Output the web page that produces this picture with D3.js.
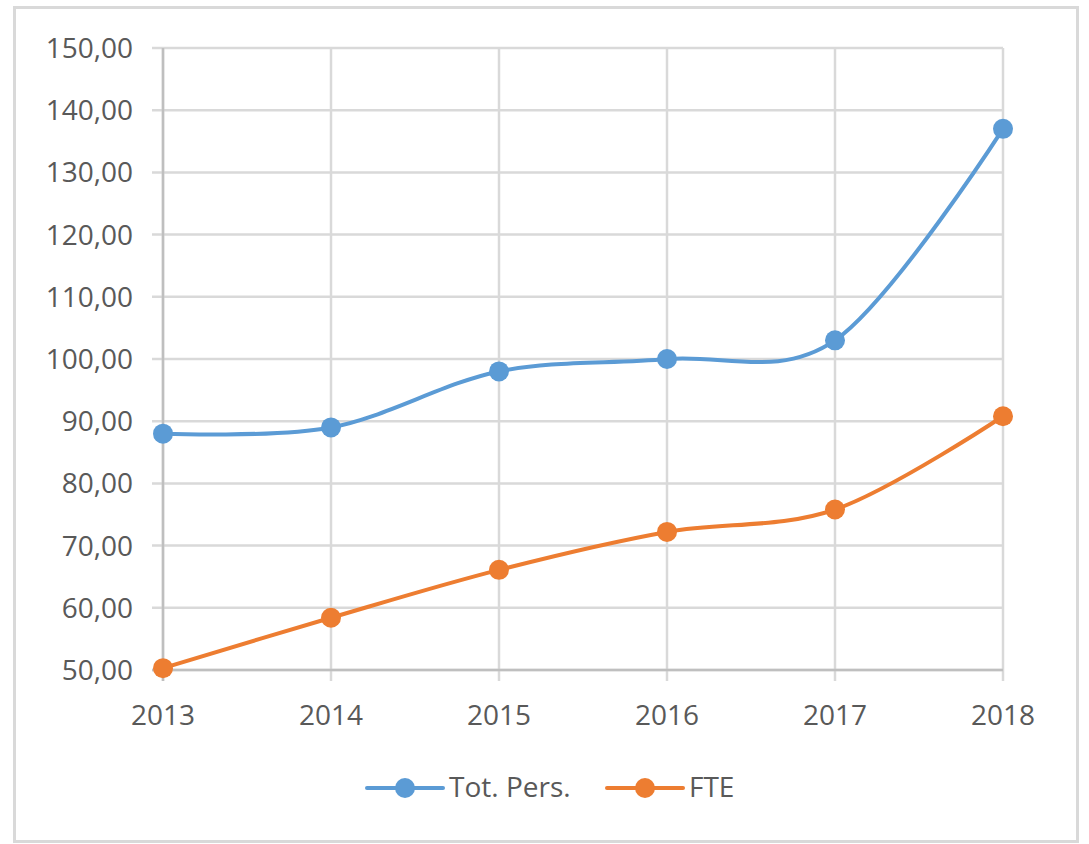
<!DOCTYPE html>
<html>
<head>
<meta charset="utf-8">
<script src="https://cdn.jsdelivr.net/npm/d3@7"></script>
<style>
  body { margin: 0; background: #fff; }
  text { font-family: "Open Sans", sans-serif; fill: #595959; }
</style>
</head>
<body>
<div class="chart"></div>
<script>
var years = ["2013", "2014", "2015", "2016", "2017", "2018"];
var totPers = [88, 89, 98, 100, 103, 137];
var fte = [50.3, 58.4, 66.1, 72.2, 75.8, 90.8];
var yTicks = [50, 60, 70, 80, 90, 100, 110, 120, 130, 140, 150];
var seriesNames = ["Tot. Pers.", "FTE"];
var seriesColors = ["#5B9BD5", "#ED7D31"];

var width = 1089,
    height = 844;

var svg = d3.select(".chart")
  .append("svg")
    .attr("width", width)
    .attr("height", height);

// outer chart frame
svg.append("rect")
  .attr("x", 14.5).attr("y", 7.5)
  .attr("width", 1063).attr("height", 834)
  .attr("fill", "none")
  .attr("stroke", "#D9D9D9")
  .attr("stroke-width", 3);

var x = d3.scalePoint()
  .domain(years)
  .range([163, 1003]);

var y = d3.scaleLinear()
  .domain([50, 150])
  .range([670, 48]);

// horizontal gridlines
svg.selectAll(".hgrid")
  .data(yTicks)
  .enter()
  .append("line")
  .attr("x1", 152).attr("x2", 1003)
  .attr("y1", function(d) { return y(d); })
  .attr("y2", function(d) { return y(d); })
  .attr("stroke", "#D9D9D9")
  .attr("stroke-width", 2.5);

// vertical gridlines (incl. ticks below the axis)
svg.selectAll(".vgrid")
  .data(years)
  .enter()
  .append("line")
  .attr("x1", function(d) { return x(d); })
  .attr("x2", function(d) { return x(d); })
  .attr("y1", 48).attr("y2", 681)
  .attr("stroke", "#D9D9D9")
  .attr("stroke-width", 2.5);

// axis lines
svg.append("line")
  .attr("x1", 163).attr("x2", 163).attr("y1", 48).attr("y2", 681)
  .attr("stroke", "#BFBFBF").attr("stroke-width", 2.5);
svg.append("line")
  .attr("x1", 152).attr("x2", 1003).attr("y1", 670).attr("y2", 670)
  .attr("stroke", "#BFBFBF").attr("stroke-width", 2.5);

// y labels
svg.selectAll(".ylab")
  .data(yTicks)
  .enter()
  .append("text")
  .attr("x", 133)
  .attr("y", function(d) { return y(d); })
  .attr("dy", "0.36em")
  .attr("text-anchor", "end")
  .style("font-size", "28px")
  .text(function(d) { return d.toFixed(2).replace(".", ","); });

// x labels
svg.selectAll(".xlab")
  .data(years)
  .enter()
  .append("text")
  .attr("x", function(d) { return x(d); })
  .attr("y", 725)
  .attr("text-anchor", "middle")
  .style("font-size", "28px")
  .text(function(d) { return d; });

var line = d3.line()
  .x(function(d) { return x(d.year); })
  .y(function(d) { return y(d.value); })
  .curve(d3.curveCardinal.tension(0));

var series = [totPers, fte].map(function(vals, i) {
  return {
    name: seriesNames[i],
    color: seriesColors[i],
    points: years.map(function(yr, j) { return { year: yr, value: vals[j] }; })
  };
});

series.forEach(function(s) {
  svg.append("path")
    .datum(s.points)
    .attr("d", line)
    .attr("fill", "none")
    .attr("stroke", s.color)
    .attr("stroke-width", 4)
    .attr("stroke-linecap", "round");

  svg.selectAll(null)
    .data(s.points)
    .enter()
    .append("circle")
    .attr("cx", function(d) { return x(d.year); })
    .attr("cy", function(d) { return y(d.value); })
    .attr("r", 10)
    .attr("fill", s.color);
});

// legend
var legendX = [367, 607];
var legend = svg.selectAll(".legend")
  .data(series)
  .enter()
  .append("g")
  .attr("transform", function(d, i) { return "translate(" + legendX[i] + ",788)"; });

legend.append("line")
  .attr("x1", 0).attr("x2", 76)
  .attr("stroke", function(d) { return d.color; })
  .attr("stroke-width", 4)
  .attr("stroke-linecap", "round");

legend.append("circle")
  .attr("cx", 38)
  .attr("r", 10)
  .attr("fill", function(d) { return d.color; });

legend.append("text")
  .attr("x", 82)
  .attr("y", 9)
  .style("font-size", "28px")
  .text(function(d) { return d.name; });
</script>
</body>
</html>
